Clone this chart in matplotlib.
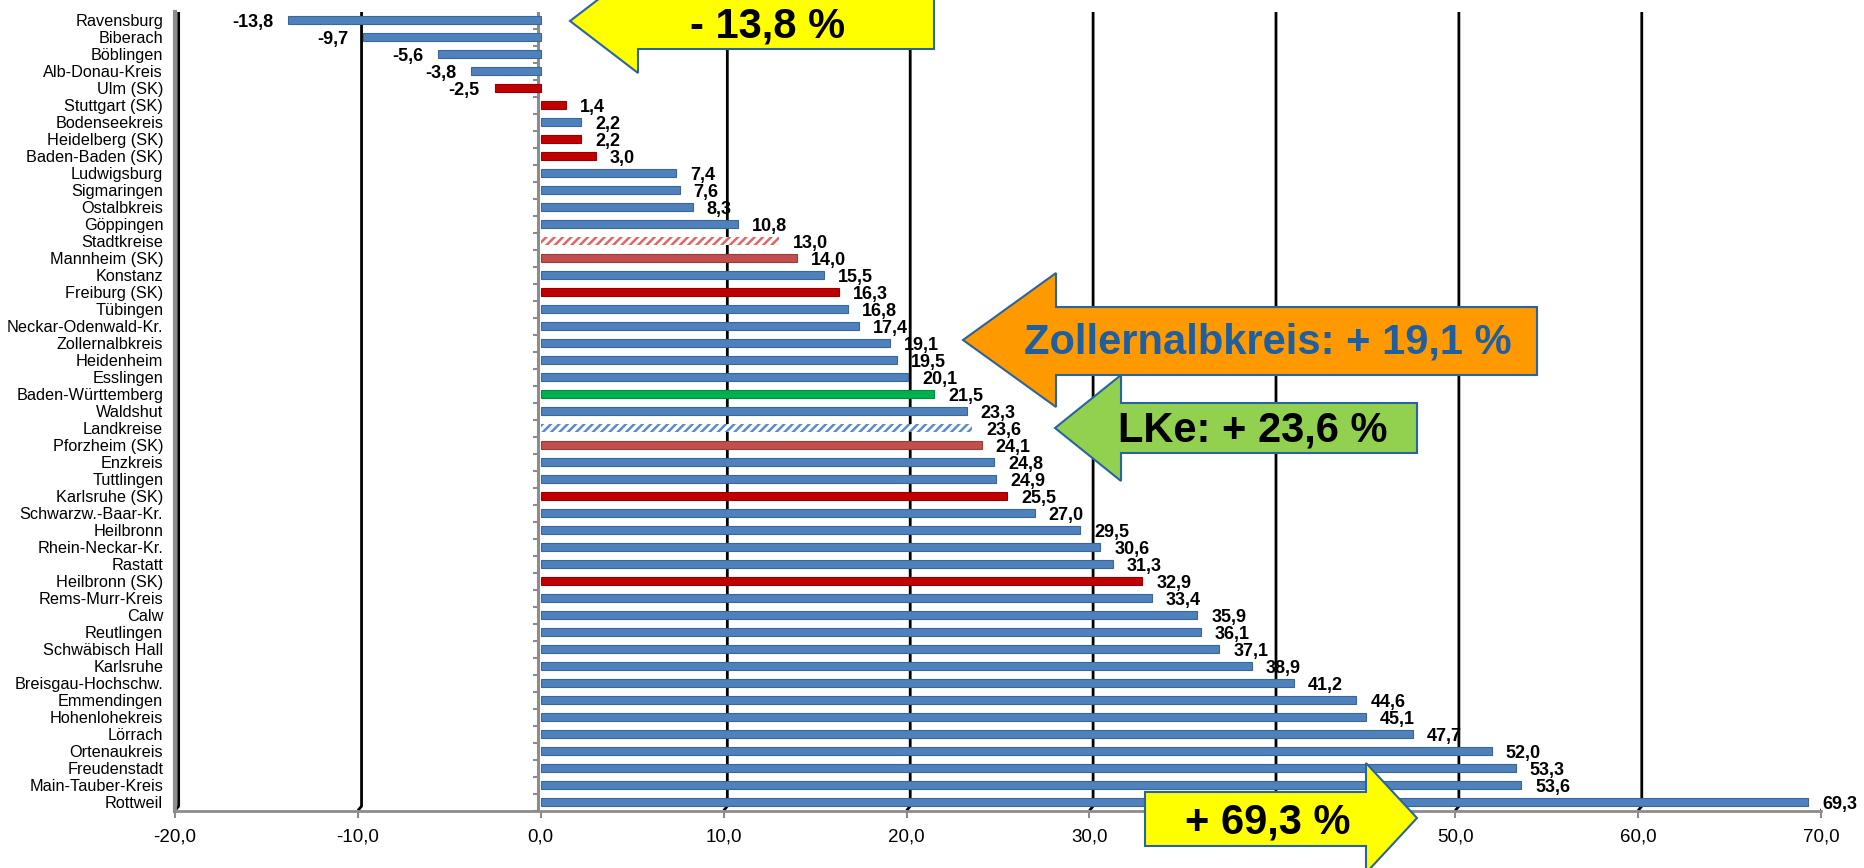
import numpy as np
import matplotlib.pyplot as plt
from matplotlib.patches import Polygon

plt.rcParams['font.family'] = ['Liberation Sans', 'DejaVu Sans']
plt.rcParams['hatch.linewidth'] = 1.8

# --- data ---------------------------------------------------------------
regions = [
    "Ravensburg", "Biberach", "Böblingen", "Alb-Donau-Kreis", "Ulm (SK)",
    "Stuttgart (SK)", "Bodenseekreis", "Heidelberg (SK)", "Baden-Baden (SK)",
    "Ludwigsburg", "Sigmaringen", "Ostalbkreis", "Göppingen", "Stadtkreise",
    "Mannheim (SK)", "Konstanz", "Freiburg (SK)", "Tübingen",
    "Neckar-Odenwald-Kr.", "Zollernalbkreis", "Heidenheim", "Esslingen",
    "Baden-Württemberg", "Waldshut", "Landkreise", "Pforzheim (SK)",
    "Enzkreis", "Tuttlingen", "Karlsruhe (SK)", "Schwarzw.-Baar-Kr.",
    "Heilbronn", "Rhein-Neckar-Kr.", "Rastatt", "Heilbronn (SK)",
    "Rems-Murr-Kreis", "Calw", "Reutlingen", "Schwäbisch Hall", "Karlsruhe",
    "Breisgau-Hochschw.", "Emmendingen", "Hohenlohekreis", "Lörrach",
    "Ortenaukreis", "Freudenstadt", "Main-Tauber-Kreis", "Rottweil",
]
change_pct = [
    -13.8, -9.7, -5.6, -3.8, -2.5,
    1.4, 2.2, 2.2, 3.0,
    7.4, 7.6, 8.3, 10.8, 13.0,
    14.0, 15.5, 16.3, 16.8,
    17.4, 19.1, 19.5, 20.1,
    21.5, 23.3, 23.6, 24.1,
    24.8, 24.9, 25.5, 27.0,
    29.5, 30.6, 31.3, 32.9,
    33.4, 35.9, 36.1, 37.1, 38.9,
    41.2, 44.6, 45.1, 47.7,
    52.0, 53.3, 53.6, 69.3,
]
# lk = Landkreis, sk = Stadtkreis, sk2 = Stadtkreis (light), bw = Land,
# sk_avg / lk_avg = hatched averages
kind = [
    "lk", "lk", "lk", "lk", "sk",
    "sk", "lk", "sk", "sk",
    "lk", "lk", "lk", "lk", "sk_avg",
    "sk2", "lk", "sk", "lk",
    "lk", "lk", "lk", "lk",
    "bw", "lk", "lk_avg", "sk2",
    "lk", "lk", "sk", "lk",
    "lk", "lk", "lk", "sk",
    "lk", "lk", "lk", "lk", "lk",
    "lk", "lk", "lk", "lk",
    "lk", "lk", "lk", "lk",
]
x_ticks = [-20, -10, 0, 10, 20, 30, 40, 50, 60, 70]

style = {
    "lk":     dict(fc="#4F81BD", ec="#3B6699", hatch=None),
    "sk":     dict(fc="#C00000", ec="#960000", hatch=None),
    "sk2":    dict(fc="#C0504D", ec="#9A3C3A", hatch=None),
    "bw":     dict(fc="#00B050", ec="#008C3E", hatch=None),
    "sk_avg": dict(fc="white", ec="#E06666", hatch="////"),
    "lk_avg": dict(fc="white", ec="#5B8BC8", hatch="////"),
}

W, H = 1865, 868
fig = plt.figure(figsize=(W / 100, H / 100), dpi=100)
ax = fig.add_axes([175 / W, 1 - 810.5 / H, (1821 - 175) / W, (810.5 - 11.5) / H])

y = np.arange(len(regions))
for yi, v, k in zip(y, change_pct, kind):
    s = style[k]
    if s["hatch"]:
        ax.barh(yi, v, height=0.52, color="white", edgecolor=s["ec"],
                hatch=s["hatch"], linewidth=0, zorder=3)
    else:
        ax.barh(yi, v, height=0.52, color=s["fc"], edgecolor=s["ec"],
                linewidth=0.8, zorder=3)
    txt = f"{v:.1f}".replace(".", ",")
    ax.annotate(txt, (v, yi), xytext=(10 if v >= 0 else -11, -1.5),
                textcoords="offset points", ha="left" if v >= 0 else "right",
                va="center", fontsize=13, fontweight="bold", zorder=5)

ax.set_xlim(-20, 70)
ax.set_ylim(len(regions) - 0.5, -0.5)

# black "3D" gridlines, slightly offset to the back wall
for t in x_ticks:
    if t == 0:
        continue
    ax.plot([t, t + 0.2, t + 0.2], [len(regions) - 0.5, len(regions) - 0.75, -0.5],
            color="black", lw=2, zorder=1, solid_capstyle="butt")

# grey value axis at 0 with small category ticks
ax.axvline(-0.15, color="#8C8C8C", lw=2.2, zorder=2)
ax.hlines(np.arange(len(regions)) + 0.5, -0.45, -0.15, color="#8C8C8C", lw=1.5, zorder=2)

ax.set_yticks(y)
ax.set_yticklabels(regions, fontsize=11.7)
ax.tick_params(axis="y", length=0, pad=8.5)
ax.set_xticks(x_ticks)
ax.set_xticklabels([f"{t:.1f}".replace(".", ",") for t in x_ticks], fontsize=13.5)
ax.tick_params(axis="x", length=5, width=1.5, color="#8C8C8C", pad=8)

for side in ("top", "right"):
    ax.spines[side].set_visible(False)
ax.spines["left"].set_color("#8C8C8C")
ax.spines["left"].set_linewidth(3)
ax.spines["bottom"].set_color("#8C8C8C")
ax.spines["bottom"].set_linewidth(2)


# --- call-out arrows (pixel positions of the reference) -----------------
def px(x, yy):
    return (x / W, 1 - yy / H)


def block_arrow(tip, head_x, head_half, body_top, body_bot, tail_x, color):
    tx, ty = tip
    pts = [(tx, ty), (head_x, ty - head_half), (head_x, body_top), (tail_x, body_top),
           (tail_x, body_bot), (head_x, body_bot), (head_x, ty + head_half)]
    fig.add_artist(Polygon([px(*p) for p in pts], closed=True, facecolor=color,
                           edgecolor="#2A64A0", lw=1.5, transform=fig.transFigure,
                           zorder=10))


block_arrow((570, 21), 638, 52, -7, 49, 934, "#FFFF00")
fig.text(*px(768, 26), "- 13,8 %", ha="center", va="center", fontsize=30,
         fontweight="bold", zorder=11)

block_arrow((963, 340), 1056, 67, 307, 375, 1537, "#FF9900")
fig.text(*px(1268, 343), "Zollernalbkreis: + 19,1 %", ha="center", va="center",
         fontsize=30, fontweight="bold", color="#1F5FA0", zorder=11)

block_arrow((1055, 428), 1121, 53, 403, 453, 1417, "#92D050")
fig.text(*px(1253, 431), "LKe: + 23,6 %", ha="center", va="center", fontsize=30,
         fontweight="bold", zorder=11)

block_arrow((1417, 818), 1366, 55, 792, 846, 1145, "#FFFF00")
fig.text(*px(1268, 822), "+ 69,3 %", ha="center", va="center", fontsize=30,
         fontweight="bold", zorder=11)

fig.savefig("out.png", dpi=100)
